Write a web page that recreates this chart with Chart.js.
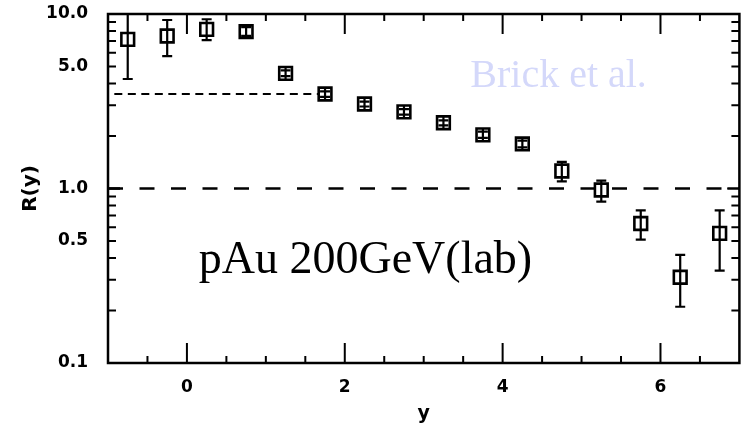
<!DOCTYPE html>
<html>
<head>
<meta charset="utf-8">
<script src="https://cdn.jsdelivr.net/npm/chart.js@4"></script>
<style>
  html, body { margin: 0; padding: 0; background: #fff; }
  #wrap { width: 751px; height: 425px; }
</style>
</head>
<body>
<div id="wrap"><canvas id="chart" width="751" height="425"></canvas></div>
<script>
"use strict";

// rapidity bins and R(y)
const rapidity = [-0.75, -0.25, 0.25, 0.75, 1.25, 1.75, 2.25, 2.75, 3.25, 3.75, 4.25, 4.75, 5.25, 5.75, 6.25, 6.75];
const ratio = [7.16, 7.48, 8.17, 7.92, 4.57, 3.48, 3.05, 2.75, 2.38, 2.03, 1.8, 1.26, 0.98, 0.63, 0.31, 0.553];
const ratioLow = [4.24, 5.74, 7.09, 7.5, 4.4, 3.35, 2.95, 2.65, 2.3, 1.95, 1.72, 1.1, 0.84, 0.51, 0.21, 0.338];
const ratioHigh = [10.5, 9.24, 9.33, 8.4, 4.75, 3.6, 3.15, 2.85, 2.46, 2.12, 1.88, 1.42, 1.11, 0.75, 0.416, 0.75];

// reference lines
const shortLineX = [-0.92, 1.66];
const shortLineY = 3.48;
const unityLineX = [-1, 7];
const unityLineY = 1.0;

const yTickValues = [0.1, 0.5, 1.0, 5.0, 10.0];
const xTickValues = [0, 2, 4, 6];

const boldFont = "'DejaVu Sans', sans-serif";
const serifFont = "'Liberation Serif', 'Times New Roman', serif";

const points = rapidity.map((x, i) => ({ x: x, y: ratio[i] }));

const frameAndBars = {
  id: "frameAndBars",
  afterDatasetsDraw(chart) {
    const ctx = chart.ctx;
    const area = chart.chartArea;
    const xs = chart.scales.x;
    const ys = chart.scales.y;
    ctx.save();
    ctx.beginPath();
    ctx.rect(area.left, area.top, area.right - area.left, area.bottom - area.top);
    ctx.clip();
    ctx.strokeStyle = "#000";
    ctx.lineWidth = 2.2;
    const half = 6;
    rapidity.forEach((x, i) => {
      const px = xs.getPixelForValue(x);
      const pc = ys.getPixelForValue(ratio[i]);
      const pLo = ys.getPixelForValue(ratioLow[i]);
      const pHi = ys.getPixelForValue(ratioHigh[i]);
      ctx.beginPath();
      ctx.moveTo(px, Math.max(pLo, pc + half));
      ctx.lineTo(px, Math.min(pHi, pc - half));
      ctx.stroke();
      [pLo, pHi].forEach((p) => {
        ctx.beginPath();
        ctx.moveTo(px - 5, p);
        ctx.lineTo(px + 5, p);
        ctx.stroke();
      });
    });
    ctx.restore();

    // frame and inward ticks
    ctx.save();
    ctx.strokeStyle = "#000";
    ctx.lineWidth = 2.5;
    ctx.strokeRect(area.left, area.top, area.right - area.left, area.bottom - area.top);
    ctx.lineWidth = 2;
    for (let v = -0.5; v < 7; v += 0.5) {
      const px = xs.getPixelForValue(v);
      const len = xTickValues.includes(v) ? 20 : 7;
      ctx.beginPath();
      ctx.moveTo(px, area.bottom);
      ctx.lineTo(px, area.bottom - len);
      ctx.moveTo(px, area.top);
      ctx.lineTo(px, area.top + len);
      ctx.stroke();
    }
    [0.1, 1].forEach((decade) => {
      for (let m = 1; m <= 10; m++) {
        const v = decade * m;
        const py = ys.getPixelForValue(v);
        const len = m === 1 || m === 10 ? 12 : 8;
        ctx.beginPath();
        ctx.moveTo(area.left, py);
        ctx.lineTo(area.left + len, py);
        ctx.moveTo(area.right, py);
        ctx.lineTo(area.right - len, py);
        ctx.stroke();
      }
    });
    ctx.restore();

    // labels inside the plot
    ctx.save();
    ctx.textAlign = "left";
    ctx.textBaseline = "alphabetic";
    ctx.fillStyle = "#000";
    ctx.font = "46px " + serifFont;
    ctx.fillText("pAu 200GeV(lab)", xs.getPixelForValue(0.15), ys.getPixelForValue(0.327));
    ctx.fillStyle = "rgb(212, 216, 250)";
    ctx.font = "40px " + serifFont;
    ctx.fillText("Brick et al.", xs.getPixelForValue(3.59), ys.getPixelForValue(3.83));
    ctx.restore();
  },
};

new Chart(document.getElementById("chart"), {
  type: "scatter",
  data: {
    datasets: [
      {
        data: points,
        pointStyle: "rect",
        pointRadius: 9,
        pointHoverRadius: 9,
        pointBorderWidth: 2.6,
        borderColor: "#000",
        backgroundColor: "rgba(0,0,0,0)",
      },
      {
        type: "line",
        data: shortLineX.map((x) => ({ x: x, y: shortLineY })),
        borderColor: "#000",
        borderWidth: 2,
        borderDash: [8, 5.5],
        pointRadius: 0,
        fill: false,
      },
      {
        type: "line",
        data: unityLineX.map((x) => ({ x: x, y: unityLineY })),
        borderColor: "#000",
        borderWidth: 2.5,
        borderDash: [15, 16.5],
        pointRadius: 0,
        fill: false,
      },
    ],
  },
  options: {
    responsive: false,
    animation: false,
    events: [],
    layout: { padding: { top: 14, right: 8, left: 0, bottom: 0 } },
    plugins: { legend: { display: false }, tooltip: { enabled: false } },
    scales: {
      x: {
        type: "linear",
        min: -1,
        max: 7,
        afterFit: (scale) => {
          scale.height = 62;
          scale.paddingLeft = 0;
          scale.paddingRight = 0;
        },
        afterBuildTicks: (scale) => { scale.ticks = xTickValues.map((v) => ({ value: v })); },
        grid: { display: false, drawTicks: false },
        border: { display: false },
        ticks: {
          padding: 14,
          color: "#000",
          font: { family: boldFont, size: 17, weight: "bold" },
        },
        title: {
          display: true,
          text: "y",
          color: "#000",
          padding: { top: 0, bottom: 0 },
          font: { family: boldFont, size: 19, weight: "bold" },
        },
      },
      y: {
        type: "logarithmic",
        min: 0.1,
        max: 10,
        afterFit: (scale) => {
          scale.width = 108;
          scale.paddingTop = 0;
          scale.paddingBottom = 0;
        },
        afterBuildTicks: (scale) => { scale.ticks = yTickValues.map((v) => ({ value: v })); },
        grid: { display: false, drawTicks: false },
        border: { display: false },
        ticks: {
          padding: 20,
          color: "#000",
          font: { family: boldFont, size: 17, weight: "bold" },
          callback: (v) => Number(v).toFixed(1),
        },
        title: {
          display: true,
          text: "R(y)",
          color: "#000",
          padding: { top: 19, bottom: 0 },
          font: { family: boldFont, size: 20, weight: "bold" },
        },
      },
    },
  },
  plugins: [frameAndBars],
});
</script>
</body>
</html>
